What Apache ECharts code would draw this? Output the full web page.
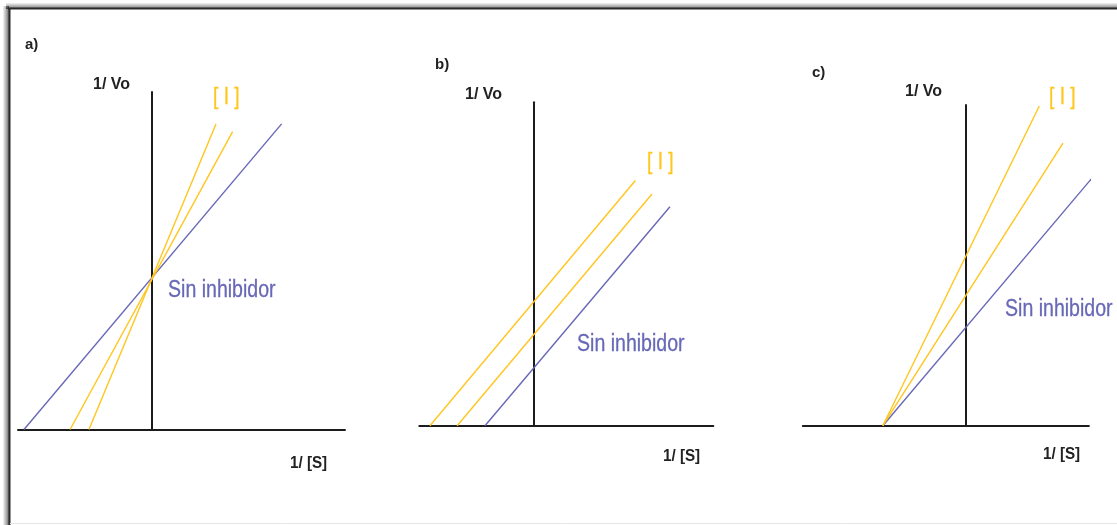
<!DOCTYPE html>
<html>
<head>
<meta charset="utf-8">
<script src="https://cdn.jsdelivr.net/npm/echarts@6/dist/echarts.min.js"></script>
<style>
html,body{margin:0;padding:0;background:#fff;}
#chart{width:1117px;height:525px;}
</style>
</head>
<body>
<div id="chart"></div>
<script>
// ---- data (arbitrary Lineweaver-Burk units) ----
const panelLabels = ['a)', 'b)', 'c)'];
const yName = '1/ Vo';
const xName = '1/ [S]';
const inhibName = '[ I ]';
const noInhibName = 'Sin inhibidor';

// panel a: competitive
const aNoInhib = [[-4.0, 0], [4.05, 9.55]];
const aInhib1  = [[-2.56, 0], [2.52, 9.31]];
const aInhib2  = [[-1.97, 0], [2.0, 9.55]];
// panel b: uncompetitive
const bNoInhib = [[-1.51, 0], [4.27, 6.84]];
const bInhib1  = [[-2.38, 0], [3.71, 7.24]];
const bInhib2  = [[-3.23, 0], [3.19, 7.66]];
// panel c: non-competitive
const cNoInhib = [[-2.6, 0], [3.93, 7.73]];
const cInhib1  = [[-2.6, 0], [3.03, 8.83]];
const cInhib2  = [[-2.6, 0], [2.29, 9.99]];

// axis ranges
const xRanges = [[-4.1875, 6.03125], [-3.5625, 5.625], [-5.1, 3.84]];
const yRanges = [[0, 10.547], [0, 10.106], [0, 10.02]];

const YELLOW = '#FFC61E';
const PURPLE = '#6868B8';
const AXIS = '#1c1c1c';

const grids = [
  {left: 18, top: 92, width: 327, height: 337.5},
  {left: 419.3, top: 102.3, width: 294, height: 323.4},
  {left: 802.8, top: 105, width: 286.1, height: 320.7}
];

const chart = echarts.init(document.getElementById('chart'), null, {renderer: 'canvas'});

const xAxes = xRanges.map((r, i) => ({
  type: 'value', gridIndex: i, min: r[0], max: r[1],
  axisLine: {show: true, onZero: true, lineStyle: {color: AXIS, width: 2}},
  axisTick: {show: false}, axisLabel: {show: false}, splitLine: {show: false}
}));
const yAxes = yRanges.map((r, i) => ({
  type: 'value', gridIndex: i, min: r[0], max: r[1],
  axisLine: {show: true, onZero: true, lineStyle: {color: AXIS, width: 2}},
  axisTick: {show: false}, axisLabel: {show: false}, splitLine: {show: false}
}));

function lineSeries(data, idx, color, name) {
  return {
    type: 'line', name: name, xAxisIndex: idx, yAxisIndex: idx, data: data,
    symbol: 'none', clip: false, silent: true,
    lineStyle: {color: color, width: 1.4}, z: 1
  };
}

const series = [
  lineSeries(aNoInhib, 0, PURPLE, noInhibName),
  lineSeries(aInhib1, 0, YELLOW, inhibName),
  lineSeries(aInhib2, 0, YELLOW, inhibName),
  lineSeries(bNoInhib, 1, PURPLE, noInhibName),
  lineSeries(bInhib1, 1, YELLOW, inhibName),
  lineSeries(bInhib2, 1, YELLOW, inhibName),
  lineSeries(cNoInhib, 2, PURPLE, noInhibName),
  lineSeries(cInhib1, 2, YELLOW, inhibName),
  lineSeries(cInhib2, 2, YELLOW, inhibName)
];

const SANS = '"Liberation Sans", Arial, sans-serif';

function txt(text, x, y, font, fill, sx, sw) {
  const style = {text: text, font: font, fill: fill, align: 'left', verticalAlign: 'middle'};
  if (sw) { style.stroke = fill; style.lineWidth = sw; }
  return {type: 'text', x: x, y: y, z: 10, silent: true, scaleX: sx || 1, style: style};
}

const textPos = [
  {lab: [25, 45], vo: [93, 85], inh: [213, 97], sin: [168, 291], s: [290, 464]},
  {lab: [435, 65], vo: [465, 95], inh: [647, 162], sin: [577, 345], s: [663, 457]},
  {lab: [812, 73], vo: [905, 92], inh: [1049, 97], sin: [1005, 310], s: [1043, 455]}
];

const graphic = [];
// frame with soft shadow on top and left edges
graphic.push({type: 'rect', shape: {x: 6, y: 3, width: 1111, height: 6}, silent: true,
  style: {fill: new echarts.graphic.LinearGradient(0, 0, 0, 1, [
    {offset: 0, color: 'rgba(0,0,0,0.04)'}, {offset: 0.6, color: 'rgba(0,0,0,0.35)'}, {offset: 1, color: 'rgba(0,0,0,0.6)'}])}});
graphic.push({type: 'rect', shape: {x: 3, y: 6, width: 6, height: 519}, silent: true,
  style: {fill: new echarts.graphic.LinearGradient(0, 0, 1, 0, [
    {offset: 0, color: 'rgba(0,0,0,0.04)'}, {offset: 0.6, color: 'rgba(0,0,0,0.35)'}, {offset: 1, color: 'rgba(0,0,0,0.6)'}])}});
graphic.push({type: 'line', shape: {x1: 8, y1: 8.5, x2: 1117, y2: 8.5}, silent: true,
  style: {stroke: '#2a2a2a', lineWidth: 2}});
graphic.push({type: 'line', shape: {x1: 9.5, y1: 8, x2: 9.5, y2: 525}, silent: true,
  style: {stroke: '#2a2a2a', lineWidth: 2}});
graphic.push({type: 'line', shape: {x1: 10, y1: 523.5, x2: 1117, y2: 523.5}, silent: true,
  style: {stroke: '#e6e6e6', lineWidth: 1}});

textPos.forEach((p, i) => {
  graphic.push(txt(panelLabels[i], p.lab[0], p.lab[1], 'bold 15px ' + SANS, '#222'));
  graphic.push(txt(yName, p.vo[0], p.vo[1], 'bold 16px ' + SANS, '#222'));
  graphic.push(txt(xName, p.s[0], p.s[1], 'bold 16px ' + SANS, '#222', 0.95));
  graphic.push(txt(inhibName, p.inh[0], p.inh[1], '24px ' + SANS, YELLOW, 0.8, 0.3));
  graphic.push(txt(noInhibName, p.sin[0], p.sin[1], '23px ' + SANS, PURPLE, 0.85, 0.3));
});

chart.setOption({
  animation: false,
  backgroundColor: '#ffffff',
  grid: grids,
  xAxis: xAxes,
  yAxis: yAxes,
  series: series,
  graphic: graphic
});
</script>
</body>
</html>
